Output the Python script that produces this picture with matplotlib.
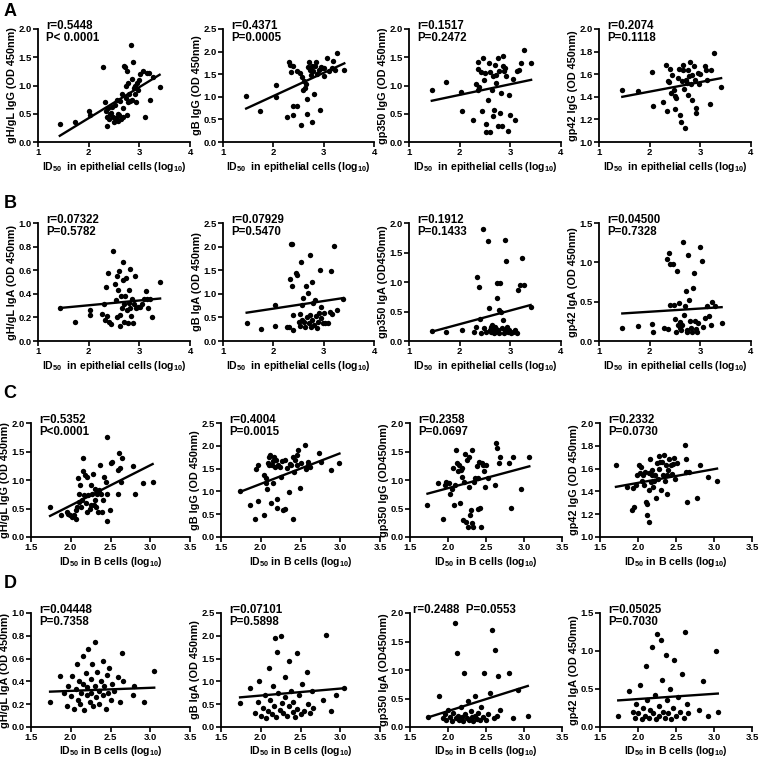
import numpy as np
import matplotlib
matplotlib.use("Agg")
import matplotlib.pyplot as plt

plt.rcParams['font.family'] = ['Liberation Sans', 'DejaVu Sans']
plt.rcParams['font.weight'] = 'bold'
plt.rcParams['axes.labelweight'] = 'bold'
plt.rcParams['mathtext.fontset'] = 'custom'
plt.rcParams['mathtext.rm'] = 'Liberation Sans:bold'
plt.rcParams['mathtext.it'] = 'Liberation Sans:bold'
plt.rcParams['mathtext.bf'] = 'Liberation Sans:bold'

# ---- data: (ID50 log10, OD 450nm) ----
# row A: IgG vs ID50 in epithelial cells
gHgL_IgG_epi = [(1.43,0.32),(1.73,0.36),(2.01,0.55),(2.02,0.48),(2.29,1.32),(2.33,0.70),(2.35,0.55),
    (2.36,0.45),(2.37,0.28),(2.38,0.60),(2.40,0.40),(2.42,0.50),(2.45,0.52),(2.47,0.62),(2.48,0.45),
    (2.50,0.35),(2.52,0.65),(2.53,0.42),(2.55,0.75),(2.57,0.50),(2.58,0.38),(2.60,0.48),(2.62,0.72),
    (2.63,0.40),(2.65,0.85),(2.67,0.60),(2.68,0.45),(2.70,1.35),(2.72,1.32),(2.73,1.00),(2.74,0.78),
    (2.75,1.25),(2.76,0.48),(2.77,0.70),(2.78,1.05),(2.80,0.85),(2.82,0.72),(2.83,1.72),(2.85,1.12),
    (2.86,0.75),(2.88,1.42),(2.90,0.95),(2.91,0.85),(2.92,1.00),(2.93,0.70),(2.95,1.05),(2.97,0.92),
    (3.00,1.10),(3.02,1.20),(3.07,1.25),(3.12,0.45),(3.15,1.22),(3.20,1.22),(3.22,0.75),(3.27,1.15),
    (3.40,0.97)]
gB_IgG_epi = [(1.46,1.02),(1.74,0.68),(2.05,1.26),(2.05,0.99),(2.31,1.76),(2.34,1.71),(2.36,1.54),
    (2.39,1.68),(2.27,0.55),(2.40,0.80),(2.40,0.59),(2.48,0.79),(2.54,0.38),(2.48,1.56),(2.52,1.52),
    (2.57,1.43),(2.58,1.15),(2.62,1.19),(2.65,1.29),(2.66,0.96),(2.66,0.62),(2.60,1.36),(2.68,1.67),
    (2.70,1.76),(2.73,1.60),(2.75,1.49),(2.77,1.69),(2.79,1.57),(2.81,1.06),(2.77,0.45),(2.82,1.69),
    (2.84,1.76),(2.87,1.51),(2.91,1.60),(2.92,0.71),(2.94,1.67),(2.97,1.63),(3.00,1.46),(3.01,1.63),
    (3.07,1.85),(3.11,1.58),(3.16,1.63),(3.19,1.80),(3.23,1.60),(3.26,1.96),(3.41,1.60)]
gp350_IgG_epi = [(1.45,0.92),(1.74,1.07),(2.03,0.89),(2.04,0.54),(2.27,0.39),(2.32,1.02),(2.36,1.42),
    (2.37,1.29),(2.39,0.98),(2.37,0.92),(2.43,1.24),(2.45,0.54),(2.47,1.48),(2.49,1.10),(2.50,1.22),
    (2.52,0.31),(2.52,0.17),(2.55,0.74),(2.57,1.39),(2.59,0.17),(2.60,1.24),(2.63,0.92),(2.65,1.16),
    (2.66,0.46),(2.68,0.57),(2.69,1.36),(2.71,1.04),(2.72,1.19),(2.76,1.48),(2.76,0.28),(2.77,1.25),
    (2.79,0.51),(2.82,0.86),(2.84,0.28),(2.85,1.34),(2.86,1.52),(2.88,1.25),(2.90,1.31),(2.92,1.16),
    (2.95,0.19),(2.98,0.84),(3.00,0.48),(3.05,1.11),(3.10,0.39),(3.13,1.26),(3.17,1.28),(3.22,1.39),
    (3.26,1.62),(3.41,1.39)]
gp42_IgG_epi = [(1.46,1.46),(1.76,1.45),(2.04,1.62),(2.06,1.32),(2.27,1.35),(2.32,1.68),(2.35,1.27),
    (2.37,1.54),(2.39,1.53),(2.40,1.65),(2.42,1.43),(2.45,1.59),(2.48,1.46),(2.50,1.41),(2.50,1.29),
    (2.52,1.39),(2.55,1.57),(2.57,1.65),(2.59,1.24),(2.62,1.18),(2.63,1.54),(2.65,1.64),(2.66,1.68),
    (2.68,1.47),(2.70,1.12),(2.72,1.55),(2.73,1.52),(2.75,1.64),(2.76,1.42),(2.78,1.58),(2.80,1.71),
    (2.81,1.51),(2.83,1.59),(2.84,1.37),(2.87,1.67),(2.89,1.55),(2.91,1.30),(2.91,1.26),(2.95,1.61),
    (2.98,1.51),(3.00,1.60),(3.09,1.67),(3.12,1.64),(3.14,1.55),(3.20,1.34),(3.22,1.64),(3.27,1.79),
    (3.41,1.49)]

# row B: IgA vs ID50 in epithelial cells
gHgL_IgA_epi = [(1.44,0.28),(1.74,0.16),(2.03,0.26),(2.03,0.22),(2.26,0.23),(2.30,0.31),(2.32,0.18),
    (2.35,0.46),(2.36,0.21),(2.39,0.58),(2.41,0.16),(2.45,0.14),(2.49,0.76),(2.51,0.48),(2.53,0.35),
    (2.55,0.55),(2.56,0.20),(2.57,0.43),(2.59,0.59),(2.61,0.13),(2.62,0.22),(2.64,0.38),(2.66,0.28),
    (2.67,0.67),(2.68,0.52),(2.69,0.31),(2.70,0.16),(2.72,0.38),(2.74,0.53),(2.76,0.26),(2.78,0.15),
    (2.79,0.43),(2.80,0.32),(2.81,0.61),(2.82,0.28),(2.84,0.21),(2.86,0.36),(2.87,0.15),(2.90,0.31),
    (2.92,0.55),(2.94,0.28),(2.97,0.29),(3.01,0.29),(3.05,0.31),(3.09,0.36),(3.14,0.42),(3.15,0.36),
    (3.18,0.28),(3.22,0.36),(3.25,0.20),(3.41,0.50)]
gB_IgA_epi = [(1.47,0.39),(1.75,0.25),(2.03,0.77),(2.03,0.32),(2.27,0.29),(2.31,0.30),(2.34,1.31),
    (2.35,2.06),(2.38,2.05),(2.37,1.16),(2.39,0.23),(2.40,0.55),(2.45,1.45),(2.47,1.40),(2.50,0.41),
    (2.52,0.32),(2.53,0.57),(2.55,1.67),(2.56,0.77),(2.57,0.45),(2.59,0.91),(2.61,0.41),(2.63,0.30),
    (2.65,1.16),(2.66,0.50),(2.68,1.01),(2.70,0.38),(2.72,1.83),(2.73,0.55),(2.74,0.30),(2.76,1.26),
    (2.77,0.45),(2.79,0.80),(2.81,0.34),(2.83,0.87),(2.84,0.52),(2.86,0.27),(2.89,0.41),(2.90,0.59),
    (2.92,1.50),(2.94,0.73),(2.95,0.48),(2.98,0.39),(3.00,0.60),(3.03,0.38),(3.08,0.38),(3.13,0.62),
    (3.15,1.48),(3.17,0.57),(3.21,2.02),(3.26,0.66),(3.39,0.89)]
gp350_IgA_epi = [(1.46,0.17),(1.74,0.15),(2.05,0.19),(2.28,0.15),(2.33,0.24),(2.35,1.09),(2.38,0.91),
    (2.40,0.37),(2.43,0.14),(2.47,1.89),(2.49,0.22),(2.52,0.16),(2.55,1.69),(2.57,0.56),(2.59,0.19),
    (2.61,0.24),(2.62,0.16),(2.64,0.27),(2.65,0.19),(2.67,0.13),(2.69,0.23),(2.70,0.16),(2.72,0.21),
    (2.73,0.98),(2.74,0.73),(2.75,0.19),(2.77,0.53),(2.78,0.13),(2.80,0.98),(2.82,0.50),(2.84,0.22),
    (2.85,0.36),(2.87,0.14),(2.89,0.19),(2.90,1.71),(2.92,1.35),(2.93,0.24),(2.95,0.16),(2.98,0.19),
    (3.01,0.13),(3.05,0.16),(3.10,0.19),(3.14,0.14),(3.16,0.87),(3.20,0.95),(3.23,1.41),(3.27,0.95),
    (3.40,0.58)]
gp42_IgA_epi = [(1.46,0.17),(1.76,0.19),(2.04,0.21),(2.06,0.12),(2.29,0.17),(2.34,1.04),(2.36,0.15),
    (2.39,1.12),(2.40,0.46),(2.41,0.98),(2.47,0.98),(2.48,0.46),(2.50,0.28),(2.52,0.11),(2.53,0.89),
    (2.55,0.20),(2.57,0.48),(2.59,0.16),(2.60,0.24),(2.62,0.14),(2.64,0.20),(2.66,1.26),(2.68,0.33),
    (2.70,0.44),(2.72,0.63),(2.73,0.14),(2.74,0.12),(2.76,1.09),(2.77,0.52),(2.80,0.25),(2.81,0.16),
    (2.83,0.12),(2.86,0.68),(2.88,0.86),(2.89,0.25),(2.91,0.15),(2.94,0.12),(2.96,0.23),(2.99,1.20),
    (3.03,1.02),(3.05,0.18),(3.09,0.29),(3.14,0.44),(3.18,0.32),(3.22,0.20),(3.24,0.50),(3.28,0.44),
    (3.42,0.23)]

# row C: IgG vs ID50 in B cells
gHgL_IgG_b = [(1.74,0.53),(1.88,0.38),(1.95,0.44),(1.97,0.41),(1.99,0.38),(2.01,0.35),(2.04,0.39),
    (2.06,0.47),(2.07,0.32),(2.08,0.53),(2.09,1.03),(2.10,0.62),(2.11,0.76),(2.12,0.91),(2.13,0.53),
    (2.14,0.65),(2.15,1.15),(2.16,1.38),(2.17,0.74),(2.18,1.09),(2.19,0.59),(2.20,0.44),(2.21,1.06),
    (2.22,0.74),(2.24,0.50),(2.25,0.91),(2.26,0.56),(2.27,0.76),(2.28,1.10),(2.29,0.56),(2.30,0.65),
    (2.31,0.85),(2.32,0.53),(2.33,0.76),(2.34,0.44),(2.35,0.82),(2.37,1.26),(2.38,0.76),(2.39,0.44),
    (2.41,0.65),(2.42,1.06),(2.44,0.97),(2.45,1.76),(2.45,0.28),(2.46,0.76),(2.49,0.47),(2.50,1.29),
    (2.52,1.32),(2.59,0.75),(2.60,1.18),(2.61,1.47),(2.62,1.21),(2.64,1.38),(2.63,0.97),(2.78,1.24),
    (2.81,0.76),(2.91,0.95),(3.03,0.97)]
gB_IgG_b = [(1.74,1.01),(1.86,0.70),(1.93,0.39),(1.94,1.49),(1.97,1.58),(1.97,0.79),(2.04,0.48),
    (2.04,1.36),(2.06,1.18),(2.07,1.30),(2.08,1.05),(2.09,1.62),(2.10,1.76),(2.11,1.58),(2.12,1.79),
    (2.13,0.74),(2.14,1.58),(2.15,1.18),(2.16,1.67),(2.17,1.76),(2.18,1.54),(2.19,1.69),(2.20,0.83),
    (2.21,0.64),(2.22,1.58),(2.24,1.54),(2.25,1.32),(2.27,1.67),(2.28,0.59),(2.30,1.69),(2.31,0.62),
    (2.33,1.51),(2.35,0.98),(2.37,1.60),(2.38,1.57),(2.40,1.76),(2.41,0.39),(2.42,1.43),(2.43,1.69),
    (2.45,1.58),(2.46,1.80),(2.47,1.91),(2.49,1.07),(2.50,1.62),(2.56,2.01),(2.57,1.49),(2.59,1.58),
    (2.60,1.64),(2.62,1.54),(2.73,1.84),(2.76,1.64),(2.88,1.47),(2.99,1.62)]
gp350_IgG_b = [(1.73,0.56),(1.87,0.94),(1.94,0.32),(1.96,0.91),(1.98,0.97),(2.01,0.94),(2.03,0.76),
    (2.05,0.85),(2.06,1.21),(2.08,0.56),(2.09,0.91),(2.10,1.53),(2.12,1.29),(2.13,1.15),(2.15,1.26),
    (2.16,0.59),(2.17,1.18),(2.18,1.06),(2.19,1.21),(2.20,0.29),(2.21,0.97),(2.23,1.45),(2.24,0.26),
    (2.25,1.35),(2.26,0.18),(2.27,0.88),(2.28,1.41),(2.29,0.38),(2.30,0.47),(2.31,1.53),(2.31,0.24),
    (2.33,0.18),(2.34,0.97),(2.36,1.04),(2.38,1.24),(2.39,0.50),(2.40,1.03),(2.41,1.32),(2.42,0.51),
    (2.43,0.18),(2.45,1.29),(2.46,1.26),(2.48,1.15),(2.49,0.88),(2.50,1.26),(2.52,1.03),(2.62,0.91),
    (2.63,1.65),(2.65,1.56),(2.67,1.29),(2.68,1.41),(2.80,1.29),(2.83,0.51),(2.85,1.41),(2.96,0.85),
    (3.07,1.41)]
gp42_IgG_b = [(1.71,1.63),(1.85,1.44),(1.92,1.24),(1.93,1.43),(1.95,1.26),(1.97,1.46),(1.99,1.54),
    (2.01,1.63),(2.02,1.56),(2.04,1.61),(2.05,1.49),(2.06,1.54),(2.08,1.46),(2.09,1.57),(2.11,1.31),
    (2.12,1.29),(2.12,1.19),(2.14,1.41),(2.15,1.13),(2.15,1.56),(2.16,1.68),(2.17,1.48),(2.18,1.59),
    (2.19,1.54),(2.20,1.44),(2.21,1.49),(2.23,1.54),(2.24,1.34),(2.25,1.65),(2.26,1.51),(2.27,1.71),
    (2.28,1.60),(2.29,1.66),(2.30,1.41),(2.31,1.66),(2.33,1.54),(2.34,1.72),(2.35,1.49),(2.37,1.63),
    (2.38,1.54),(2.38,1.38),(2.40,1.59),(2.41,1.68),(2.43,1.63),(2.45,1.55),(2.46,1.64),(2.48,1.69),
    (2.49,1.51),(2.51,1.65),(2.62,1.81),(2.63,1.68),(2.65,1.31),(2.67,1.57),(2.63,1.57),(2.81,1.63),
    (2.78,1.34),(2.92,1.53),(3.04,1.49)]

# row D: IgA vs ID50 in B cells
gHgL_IgA_b = [(1.74,0.22),(1.87,0.45),(1.92,0.30),(1.95,0.18),(1.97,0.36),(2.00,0.27),(2.02,0.45),
    (2.04,0.16),(2.06,0.33),(2.08,0.55),(2.09,0.24),(2.10,0.40),(2.12,0.20),(2.13,0.30),(2.15,0.62),
    (2.16,0.38),(2.17,0.15),(2.19,0.47),(2.20,0.28),(2.21,0.35),(2.22,0.68),(2.24,0.22),(2.25,0.42),
    (2.26,0.30),(2.27,0.55),(2.28,0.18),(2.30,0.75),(2.31,0.36),(2.32,0.26),(2.33,0.48),(2.35,0.32),
    (2.36,0.20),(2.38,0.40),(2.40,0.58),(2.41,0.28),(2.42,0.36),(2.44,0.16),(2.45,0.46),(2.47,0.30),
    (2.48,0.52),(2.50,0.24),(2.52,0.38),(2.55,0.32),(2.60,0.44),(2.62,0.22),(2.64,0.65),(2.66,0.40),
    (2.78,0.28),(2.80,0.36),(2.92,0.22),(3.05,0.49)]
gB_IgA_b = [(1.74,0.52),(1.87,0.85),(1.93,0.30),(1.96,0.55),(1.98,1.00),(2.00,0.25),(2.03,0.42),
    (2.05,0.70),(2.07,0.20),(2.09,0.35),(2.10,1.30),(2.12,0.60),(2.14,0.28),(2.15,0.90),(2.17,0.45),
    (2.18,1.95),(2.19,0.22),(2.20,1.65),(2.22,0.75),(2.24,0.38),(2.25,2.00),(2.27,0.52),(2.28,0.30),
    (2.30,1.10),(2.31,0.65),(2.33,0.25),(2.35,0.45),(2.36,1.45),(2.38,0.80),(2.40,0.33),(2.41,0.55),
    (2.43,0.22),(2.45,1.62),(2.46,0.40),(2.48,0.70),(2.50,0.28),(2.52,0.95),(2.55,0.35),(2.58,1.20),
    (2.60,0.50),(2.62,0.30),(2.64,0.80),(2.66,0.42),(2.78,0.60),(2.82,2.02),(2.88,0.35),(2.95,0.70),
    (3.05,0.85)]
gp350_IgA_b = [(1.74,0.18),(1.88,0.55),(1.93,0.15),(1.96,0.22),(1.98,0.12),(2.00,0.30),(2.03,0.18),
    (2.05,0.10),(2.07,0.25),(2.09,1.82),(2.10,0.15),(2.12,1.30),(2.13,0.20),(2.15,0.12),(2.17,0.35),
    (2.18,0.18),(2.20,0.10),(2.21,0.95),(2.23,0.22),(2.25,0.15),(2.26,0.45),(2.28,0.12),(2.30,0.28),
    (2.31,0.18),(2.33,0.10),(2.35,0.20),(2.36,0.55),(2.38,0.14),(2.40,0.25),(2.42,0.12),(2.44,0.35),
    (2.46,0.18),(2.48,0.95),(2.50,0.12),(2.52,0.22),(2.55,0.60),(2.58,1.70),(2.60,0.15),(2.62,1.35),
    (2.64,0.20),(2.66,0.90),(2.68,0.30),(2.80,0.95),(2.85,0.15),(2.92,0.65),(3.05,0.20)]
gp42_IgA_b = [(1.74,0.15),(1.88,0.48),(1.93,0.20),(1.96,0.12),(1.98,0.30),(2.00,0.18),(2.03,0.55),
    (2.05,0.10),(2.07,0.25),(2.09,0.15),(2.10,0.80),(2.12,0.35),(2.14,0.12),(2.16,0.22),(2.18,1.05),
    (2.20,0.18),(2.22,0.42),(2.24,0.10),(2.25,1.22),(2.27,0.28),(2.28,0.15),(2.30,1.15),(2.32,0.62),
    (2.33,0.20),(2.35,0.12),(2.37,0.95),(2.38,0.35),(2.40,0.18),(2.42,0.50),(2.44,0.10),(2.46,0.25),
    (2.48,0.88),(2.50,0.15),(2.52,0.40),(2.55,0.20),(2.58,0.70),(2.60,0.12),(2.62,1.25),(2.64,0.30),
    (2.66,0.18),(2.80,0.22),(2.85,0.60),(2.92,0.15),(3.02,1.00),(3.05,0.20)]

# regression line, y at lowest and highest x
fit_ends = [(0.11,1.19),(0.74,1.74),(0.73,1.10),(1.40,1.565),
            (0.28,0.36),(0.60,0.91),(0.16,0.61),(0.35,0.43),
            (0.37,1.28),(0.99,1.83),(0.76,1.24),(1.44,1.60),
            (0.31,0.345),(0.65,0.85),(0.17,0.72),(0.35,0.44)]

stats = ["r=0.5448\nP< 0.0001", "r=0.4371\nP=0.0005", "r=0.1517\nP=0.2472", "r=0.2074\nP=0.1118",
         "r=0.07322\nP=0.5782", "r=0.07929\nP=0.5470", "r=0.1912\nP=0.1433", "r=0.04500\nP=0.7328",
         "r=0.5352\nP<0.0001", "r=0.4004\nP=0.0015", "r=0.2358\nP=0.0697", "r=0.2332\nP=0.0730",
         "r=0.04448\nP=0.7358", "r=0.07101\nP=0.5898", "r=0.2488  P=0.0553", "r=0.05025\nP=0.7030"]

ylabels = ["gH/gL IgG (OD 450nm)", "gB IgG (OD 450nm)", "gp350 IgG (OD 450nm)", "gp42 IgG (OD 450nm)",
           "gH/gL IgA (OD 450nm)", "gB IgA (OD 450nm)", "gp350 IgA (OD450nm)", "gp42 IgA (OD 450nm)",
           "gH/gL IgG (OD 450nm)", "gB IgG (OD 450nm)", "gp350 IgG (OD450nm)", "gp42 IgG (OD 450nm)",
           "gH/gL IgA (OD 450nm)", "gB IgA (OD 450nm)", "gp350 IgA (OD450nm)", "gp42 IgA (OD 450nm)"]

# y axis (min, max, step) per column, IgG rows and IgA rows
yaxis_igg = [(0, 2.0, 0.5), (0, 2.5, 0.5), (0, 2.0, 0.5), (1.0, 2.0, 0.2)]
yaxis_iga = [(0, 1.0, 0.2), (0, 2.5, 0.5), (0, 2.0, 0.5), (0, 1.5, 0.5)]

xlabel_epi = "ID$_{50}$  in epithelial cells (log$_{10}$)"
xlabel_b = "ID$_{50}$ in B cells (log$_{10}$)"
row_letters = ["A", "B", "C", "D"]

datasets = [gHgL_IgG_epi, gB_IgG_epi, gp350_IgG_epi, gp42_IgG_epi,
            gHgL_IgA_epi, gB_IgA_epi, gp350_IgA_epi, gp42_IgA_epi,
            gHgL_IgG_b, gB_IgG_b, gp350_IgG_b, gp42_IgG_b,
            gHgL_IgA_b, gB_IgA_b, gp350_IgA_b, gp42_IgA_b]

# layout in pixels
W, H = 760, 758
rows_px = [(29, 142), (223, 341), (423, 537), (613, 727)]
cols_epi = [(38, 190), (223, 374), (409, 561), (599, 751)]
cols_b = [(31, 190), (221, 380), (410, 562), (600, 752)]
letters_px = [(10, 12), (10, 203), (10, 393), (10, 583)]

fig = plt.figure(figsize=(W/100, H/100), dpi=100)

for i, data in enumerate(datasets):
    r, c = divmod(i, 4)
    top, bot = rows_px[r]
    left, right = (cols_epi if r < 2 else cols_b)[c]
    ax = fig.add_axes([left/W, 1 - bot/H, (right-left)/W, (bot-top)/H])

    pts = np.array(data)
    ax.scatter(pts[:, 0], pts[:, 1], s=15, color='black', linewidths=0, zorder=3, clip_on=False)
    ax.plot([pts[:, 0].min(), pts[:, 0].max()], fit_ends[i], color='black', lw=1.7)

    ymin, ymax, ystep = (yaxis_igg if r % 2 == 0 else yaxis_iga)[c]
    yt = np.arange(ymin, ymax + ystep/2, ystep)
    ax.set_ylim(ymin, ymax)
    ax.set_yticks(yt)
    ax.set_yticklabels(["%.1f" % v for v in yt], fontweight='bold')
    if r < 2:
        ax.set_xlim(1, 4)
        ax.set_xticks([1, 2, 3, 4])
        ax.set_xticklabels(["1", "2", "3", "4"], fontweight='bold')
        ax.set_xlabel(xlabel_epi, fontsize=7.6, fontweight='bold', labelpad=2)
    else:
        ax.set_xlim(1.5, 3.5)
        xt = [1.5, 2.0, 2.5, 3.0, 3.5]
        ax.set_xticks(xt)
        ax.set_xticklabels(["%.1f" % v for v in xt], fontweight='bold')
        ax.set_xlabel(xlabel_b, fontsize=7.6, fontweight='bold', labelpad=1 if r == 3 else 2)

    ax.set_ylabel(ylabels[i], fontsize=7.8, fontweight='bold', labelpad=1)
    for s in ['top', 'right']:
        ax.spines[s].set_visible(False)
    for s in ['left', 'bottom']:
        ax.spines[s].set_linewidth(1.3)
    ax.tick_params(width=1.2, length=3.5, labelsize=6.8, pad=1)

    tx = 0.02 if i == 14 else 0.055
    ax.text(tx, 1.08, stats[i], transform=ax.transAxes, fontsize=8.3, fontweight='bold',
            va='top', ha='left', linespacing=1.0)

for letter, (lx, ly) in zip(row_letters, letters_px):
    fig.text(lx/W, 1 - ly/H, letter, fontsize=13, fontweight='bold', ha='center', va='center')

fig.savefig("out.png", dpi=100)
